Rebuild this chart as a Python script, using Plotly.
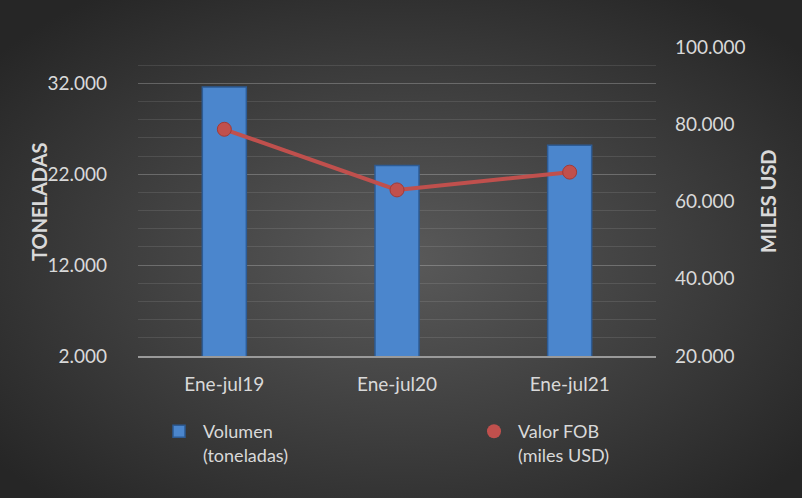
import base64

import plotly.graph_objects as go

# data
PERIODS = ["Ene-jul19", "Ene-jul20", "Ene-jul21"]
VOLUMEN_TON = [31600, 22950, 25200]
VALOR_FOB = [78700, 63000, 67600]

LEFT_TICKS = [2000, 12000, 22000, 32000]
RIGHT_TICKS = [20000, 40000, 60000, 80000, 100000]

W, H = 802, 498
MARGIN = dict(l=138, r=146, t=47, b=142)

TEXT = "#d9d9d9"
BAR = "#4b86cd"
BAR_EDGE = "#2d5b94"
LINE = "#c0504d"
FONT = "Lato"


def fmt(v):
    return f"{v:,}".replace(",", ".")


def background_image():
    svg = (
        f'<svg xmlns="http://www.w3.org/2000/svg" width="{W}" height="{H}">'
        '<defs><radialGradient id="g" cx="50%" cy="52%" r="65%">'
        '<stop offset="0" stop-color="#5a5a5a"/>'
        '<stop offset="1" stop-color="#262626"/>'
        "</radialGradient></defs>"
        f'<rect width="{W}" height="{H}" fill="url(#g)"/></svg>'
    )
    src = "data:image/svg+xml;base64," + base64.b64encode(svg.encode()).decode()
    pw = W - MARGIN["l"] - MARGIN["r"]
    ph = H - MARGIN["t"] - MARGIN["b"]
    return dict(
        source=src,
        xref="paper",
        yref="paper",
        x=-MARGIN["l"] / pw,
        y=1 + MARGIN["t"] / ph,
        sizex=W / pw,
        sizey=H / ph,
        sizing="stretch",
        xanchor="left",
        yanchor="top",
        layer="below",
    )


def legend_box(x_px):
    return dict(
        orientation="h",
        xref="container",
        yref="container",
        x=x_px / W,
        y=1 - 413 / H,
        xanchor="left",
        yanchor="top",
        valign="top",
        itemwidth=38,
        font=dict(size=18, color=TEXT),
        bgcolor="rgba(0,0,0,0)",
    )


fig = go.Figure()

fig.add_trace(
    go.Bar(
        x=PERIODS,
        y=VOLUMEN_TON,
        name="Volumen<br>(toneladas)",
        marker=dict(color=BAR, line=dict(color=BAR_EDGE, width=1.5)),
        legend="legend",
    )
)

fig.add_trace(
    go.Scatter(
        x=PERIODS,
        y=VALOR_FOB,
        yaxis="y2",
        mode="lines+markers",
        line=dict(color=LINE, width=4),
        marker=dict(color=LINE, size=14, line=dict(color="#a33a37", width=1)),
        showlegend=False,
    )
)
# legend entry shows only the marker, as in the reference
fig.add_trace(
    go.Scatter(
        x=[None],
        y=[None],
        yaxis="y2",
        mode="markers",
        name="Valor FOB<br>(miles USD)",
        marker=dict(color=LINE, size=14),
        legend="legend2",
    )
)

fig.update_layout(
    width=W,
    height=H,
    margin=MARGIN,
    paper_bgcolor="#3c3c3c",
    plot_bgcolor="rgba(0,0,0,0)",
    font=dict(family=FONT, size=19, color=TEXT),
    bargap=0.745,
    images=[background_image()],
    xaxis=dict(
        showgrid=False,
        showline=True,
        linecolor="#9a9a9a",
        linewidth=2,
        ticks="",
        tickangle=0,
        ticklabelstandoff=10,
    ),
    yaxis=dict(
        range=[2000, 36000],
        tickvals=LEFT_TICKS,
        ticktext=[fmt(v) for v in LEFT_TICKS],
        showgrid=True,
        gridcolor="rgba(255,255,255,0.15)",
        gridwidth=1,
        minor=dict(dtick=2000, tick0=2000, showgrid=True, gridcolor="rgba(255,255,255,0.10)"),
        zeroline=False,
        ticklabelstandoff=30,
    ),
    yaxis2=dict(
        overlaying="y",
        side="right",
        range=[20000, 100000],
        tickvals=RIGHT_TICKS,
        ticktext=[fmt(v) for v in RIGHT_TICKS],
        showgrid=False,
        zeroline=False,
        ticklabelstandoff=18,
    ),
    legend=legend_box(155),
    legend2=legend_box(470),
    annotations=[
        dict(
            text="<b>TONELADAS</b>",
            xref="paper",
            yref="paper",
            x=-(MARGIN["l"] - 25) / (W - MARGIN["l"] - MARGIN["r"]),
            y=(356 - 202) / (H - MARGIN["t"] - MARGIN["b"]),
            textangle=-90,
            showarrow=False,
            font=dict(size=20, color=TEXT),
        ),
        dict(
            text="<b>MILES USD</b>",
            xref="paper",
            yref="paper",
            x=1 + (782 - (W - MARGIN["r"])) / (W - MARGIN["l"] - MARGIN["r"]),
            y=(356 - 201) / (H - MARGIN["t"] - MARGIN["b"]),
            textangle=-90,
            showarrow=False,
            font=dict(size=20, color=TEXT),
        ),
    ],
)

fig.write_html(
    "out.html",
    config={"displayModeBar": False},
    post_script="document.body.style.margin = '0';",
)
